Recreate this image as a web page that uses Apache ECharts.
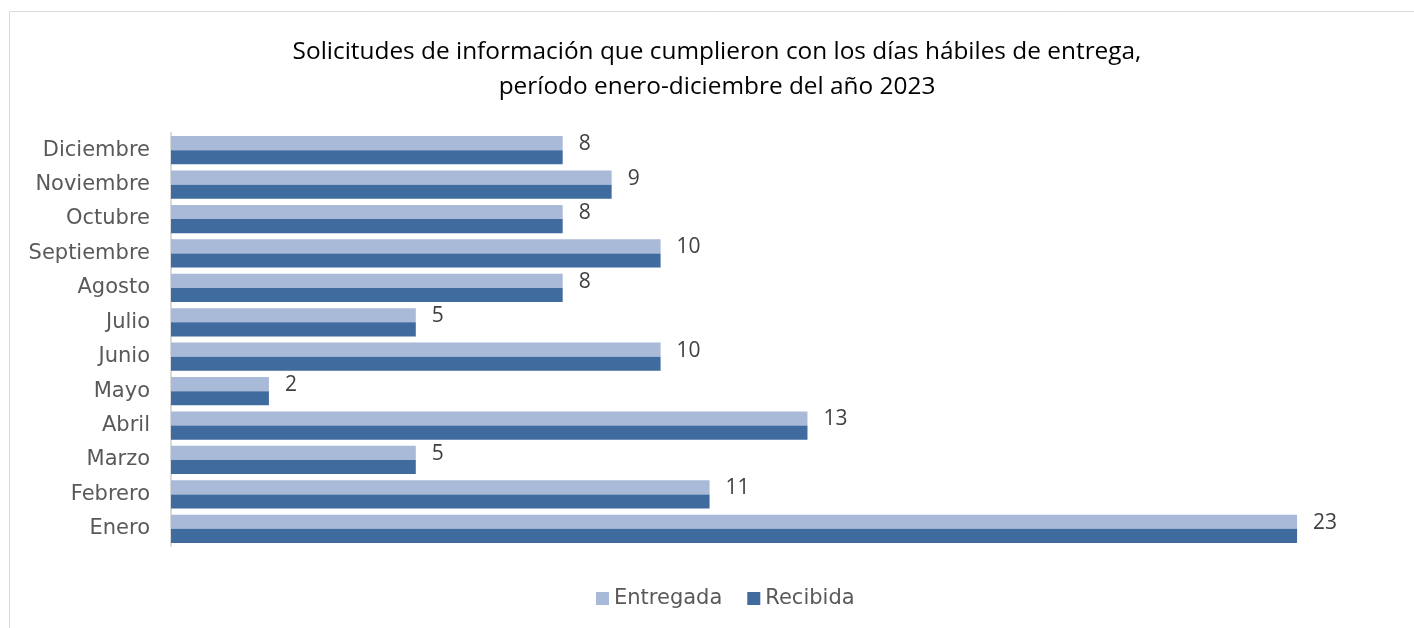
<!DOCTYPE html>
<html>
<head>
<meta charset="utf-8">
<script src="https://cdn.jsdelivr.net/npm/echarts@6/dist/echarts.min.js"></script>
<style>
  html, body { margin: 0; padding: 0; background: #fff; }
  #chart { width: 1414px; height: 628px; }
</style>
</head>
<body>
<div id="chart"></div>
<script>
// datos (de Enero a Diciembre)
const meses = ['Enero', 'Febrero', 'Marzo', 'Abril', 'Mayo', 'Junio', 'Julio', 'Agosto', 'Septiembre', 'Octubre', 'Noviembre', 'Diciembre']
const entregada = [23, 11, 5, 13, 2, 10, 5, 8, 10, 8, 9, 8]
const recibida = [23, 11, 5, 13, 2, 10, 5, 8, 10, 8, 9, 8]

const chart = echarts.init(document.getElementById('chart'))
const fuenteTitulo = '"Open Sans", "Noto Sans", sans-serif'
const fuenteEjes = '"DejaVu Sans", sans-serif'

const option = {
  backgroundColor: '#fff',
  animation: false,
  graphic: [
    {
      type: 'rect',
      shape: { x: 9.5, y: 11.5, width: 1420, height: 640 },
      style: { fill: 'none', stroke: '#d9d9d9', lineWidth: 1 }
    }
  ],
  title: {
    text: 'Solicitudes de información que cumplieron con los días hábiles de entrega,\nperíodo enero-diciembre del año 2023',
    left: 712,
    textAlign: 'center',
    top: 30,
    textStyle: {
      fontFamily: fuenteTitulo,
      fontSize: 24.4,
      fontWeight: 'normal',
      color: '#000',
      lineHeight: 35
    }
  },
  legend: {
    bottom: 14,
    left: 591,
    itemWidth: 13,
    itemHeight: 13,
    itemGap: 25,
    icon: 'rect',
    textStyle: { fontFamily: fuenteEjes, fontSize: 21, color: '#595959' },
    data: ['Entregada', 'Recibida']
  },
  grid: {
    left: 171,
    right: 19,
    top: 133,
    bottom: 628 - 546
  },
  xAxis: {
    type: 'value',
    min: 0,
    max: 25,
    show: false
  },
  yAxis: {
    type: 'category',
    data: meses,
    axisLine: { show: true, lineStyle: { color: '#d9d9d9', width: 2 } },
    axisTick: { show: false },
    axisLabel: {
      fontFamily: fuenteEjes,
      fontSize: 21,
      color: '#595959',
      margin: 21
    }
  },
  series: [
    {
      name: 'Entregada',
      type: 'bar',
      data: entregada,
      barGap: '0%',
      barCategoryGap: '18%',
      itemStyle: { color: '#a9b9d8' },
      label: {
        show: true,
        position: 'right',
        distance: 16,
        offset: [0, 1],
        fontFamily: fuenteTitulo,
        fontSize: 21,
        color: '#404040'
      }
    },
    {
      name: 'Recibida',
      type: 'bar',
      data: recibida,
      barGap: '0%',
      barCategoryGap: '18%',
      itemStyle: { color: '#3f6b9e' }
    }
  ]
}

chart.setOption(option)
</script>
</body>
</html>
